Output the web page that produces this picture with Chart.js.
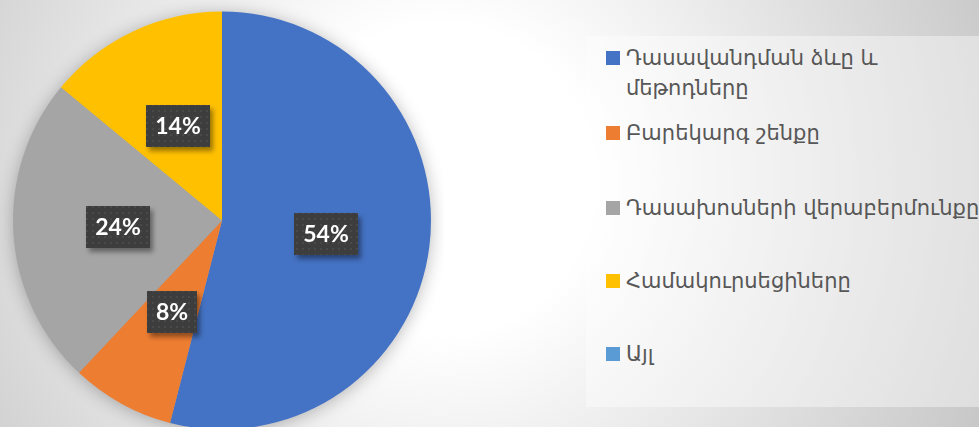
<!DOCTYPE html>
<html>
<head>
<meta charset="utf-8">
<script src="https://cdn.jsdelivr.net/npm/chart.js@4.4.1/dist/chart.umd.min.js"></script>
<style>
  html, body {
    margin: 0;
    padding: 0;
    width: 979px;
    height: 427px;
    overflow: hidden;
  }
  body {
    position: relative;
    background: radial-gradient(circle 620px at 440px 180px, #ffffff 0%, #ffffff 25%, #c4c4c4 100%);
  }
  #pie-wrap {
    position: absolute;
    left: 0;
    top: 0;
    width: 444px;
    height: 442px;
  }
  #legend {
    position: absolute;
    left: 586px;
    top: 36px;
    width: 400px;
    height: 371px;
    background: rgba(255, 255, 255, 0.4);
    font-family: "DejaVu Sans", sans-serif;
    font-size: 21px;
    color: #575757;
  }
  .item {
    position: absolute;
    left: 20px;
    white-space: nowrap;
  }
  .swatch {
    position: absolute;
    left: 0;
    top: 8px;
    width: 14px;
    height: 14px;
  }
  .text {
    margin-left: 20px;
    line-height: 30px;
  }
</style>
</head>
<body>
<div id="pie-wrap"><canvas id="pie-chart"></canvas></div>
<div id="legend"></div>
<script>
/*global Chart*/

// categories (first one wraps onto two lines in the legend)
const categories = [
  ["Դասավանդման ձևը և", "մեթոդները"],
  "Բարեկարգ շենքը",
  "Դասախոսների վերաբերմունքը",
  "Համակուրսեցիները",
  "Այլ",
];
const shares = [54, 8, 24, 14, 0];
const sliceColors = ["#4472C4", "#ED7D31", "#A5A5A5", "#FFC000", "#5B9BD5"];

// vertical centre of each legend marker, relative to the legend box
const legendRowCentres = [22, 97, 172, 245, 318];

function buildLegend() {
  const box = document.getElementById("legend");
  categories.forEach((cat, i) => {
    const lines = Array.isArray(cat) ? cat : [cat];
    const item = document.createElement("div");
    item.className = "item";
    item.style.top = (legendRowCentres[i] - 15) + "px";
    const sw = document.createElement("div");
    sw.className = "swatch";
    sw.style.background = sliceColors[i];
    const txt = document.createElement("div");
    txt.className = "text";
    lines.forEach((line, j) => {
      if (j) txt.appendChild(document.createElement("br"));
      txt.appendChild(document.createTextNode(line));
    });
    item.appendChild(sw);
    item.appendChild(txt);
    box.appendChild(item);
  });
}

// dark dotted fill used behind the percentage labels
function makeDotPattern(ctx) {
  const c = document.createElement("canvas");
  c.width = 6;
  c.height = 6;
  const p = c.getContext("2d");
  p.fillStyle = "#3d3d3d";
  p.fillRect(0, 0, 6, 6);
  p.fillStyle = "#494949";
  p.fillRect(2, 2, 2, 2);
  return ctx.createPattern(c, "repeat");
}

const pieShadow = {
  id: "pieShadow",
  beforeDatasetsDraw(chart) {
    const arc = chart.getDatasetMeta(0).data[0];
    if (!arc) return;
    const ctx = chart.ctx;
    ctx.save();
    ctx.shadowColor = "rgba(0, 0, 0, 0.3)";
    ctx.shadowBlur = 18;
    ctx.shadowOffsetY = 2;
    ctx.beginPath();
    ctx.arc(arc.x, arc.y, arc.outerRadius - 1, 0, Math.PI * 2);
    ctx.fillStyle = "#a5a5a5";
    ctx.fill();
    ctx.restore();
  },
};

const percentBoxes = {
  id: "percentBoxes",
  afterDatasetsDraw(chart) {
    const ctx = chart.ctx;
    const meta = chart.getDatasetMeta(0);
    const total = shares.reduce((a, b) => a + b, 0);
    const pattern = makeDotPattern(ctx);
    meta.data.forEach((arc, i) => {
      if (!shares[i]) return;
      const pos = arc.tooltipPosition();
      const text = Math.round((shares[i] / total) * 100) + "%";
      ctx.save();
      ctx.font = "bold 23px Lato";
      const w = Math.round(ctx.measureText(text).width) + 18;
      const h = 42;
      const x = Math.round(pos.x - w / 2);
      const y = Math.round(pos.y - h / 2);
      ctx.shadowColor = "rgba(0, 0, 0, 0.4)";
      ctx.shadowBlur = 5;
      ctx.shadowOffsetX = 3;
      ctx.shadowOffsetY = 4;
      ctx.fillStyle = pattern;
      ctx.fillRect(x, y, w, h);
      ctx.shadowColor = "transparent";
      ctx.fillStyle = "#ffffff";
      ctx.textAlign = "center";
      ctx.textBaseline = "middle";
      ctx.fillText(text, x + w / 2, y + h / 2 + 1);
      ctx.restore();
    });
  },
};

function drawChart() {
  const ctx = document.getElementById("pie-chart").getContext("2d");
  new Chart(ctx, {
    type: "pie",
    plugins: [pieShadow, percentBoxes],
    data: {
      labels: categories,
      datasets: [
        {
          data: shares,
          backgroundColor: sliceColors,
          borderWidth: 0,
        },
      ],
    },
    options: {
      responsive: true,
      maintainAspectRatio: false,
      animation: false,
      layout: {
        padding: { left: 13, right: 13, top: 11, bottom: 12 },
      },
      plugins: {
        legend: { display: false },
        tooltip: { enabled: false },
      },
    },
  });
}

buildLegend();
drawChart();
</script>
</body>
</html>
